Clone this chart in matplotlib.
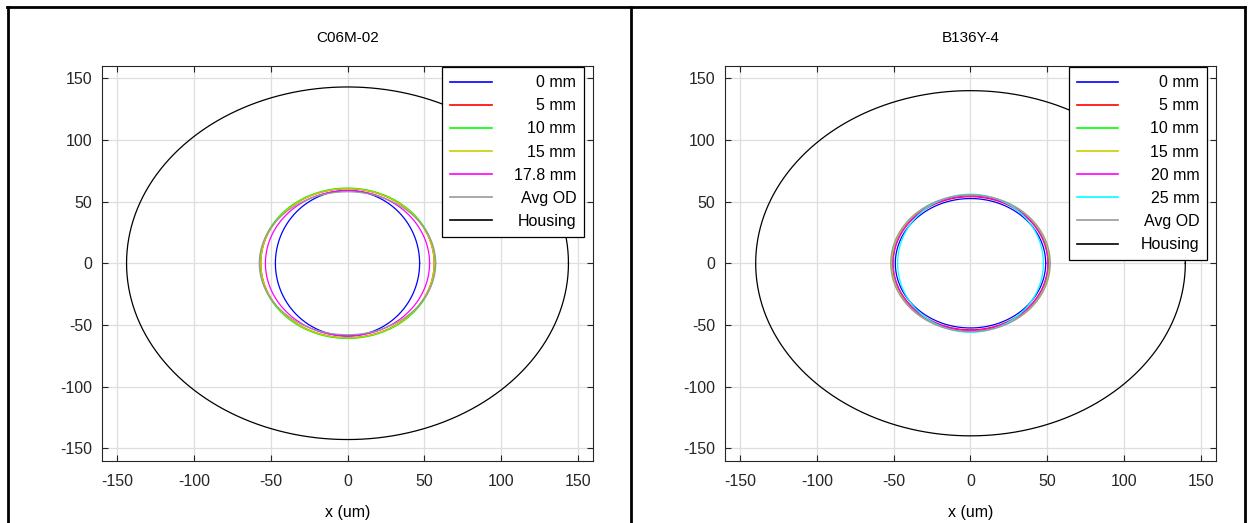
import numpy as np
import matplotlib
matplotlib.use('Agg')
import matplotlib.pyplot as plt
from matplotlib.lines import Line2D

plt.rcParams['font.family'] = ['Liberation Sans', 'DejaVu Sans']
plt.rcParams['axes.unicode_minus'] = False

# ---- data (semi-axes of each measured profile, um) ----
left_title = 'C06M-02'
left_labels = ['0 mm', '5 mm', '10 mm', '15 mm', '17.8 mm', 'Avg OD', 'Housing']
left_rx = [47, 56.5, 57, 56.5, 53.5, 57.5, 144]
left_ry = [59, 60.5, 61, 60.5, 59, 58, 143]

right_title = 'B136Y-4'
right_labels = ['0 mm', '5 mm', '10 mm', '15 mm', '20 mm', '25 mm', 'Avg OD', 'Housing']
right_rx = [49, 50.5, 51, 51.5, 50.5, 47.5, 52, 140]
right_ry = [52.5, 54, 55, 55, 54.5, 56, 55.5, 140]

ticks = [-150, -100, -50, 0, 50, 100, 150]
xlabel = 'x (um)'

left_colors = ['#0000ff', '#ff0000', '#00ff00', '#cccc00', '#ff00ff', '#999999', '#000000']
right_colors = ['#0000ff', '#ff0000', '#00ff00', '#cccc00', '#ff00ff', '#00ffff', '#999999', '#000000']

W, H = 1250, 523
fig = plt.figure(figsize=(W / 100, H / 100), dpi=100)

theta = np.linspace(0, 2 * np.pi, 721)


def panel(rect, title, labels, rx, ry, colors):
    ax = fig.add_axes(rect)
    for lab, a, b, c in zip(labels, rx, ry, colors):
        ax.plot(a * np.cos(theta), b * np.sin(theta), color=c, lw=0.9, label=lab)
    ax.set_xlim(-160, 160)
    ax.set_ylim(-160, 160)
    ax.set_xticks(ticks)
    ax.set_yticks(ticks)
    ax.grid(True, color='#dedede', lw=0.9)
    ax.set_axisbelow(True)
    ax.tick_params(direction='in', top=True, right=True, length=4, width=0.8,
                   labelsize=11.5, colors='#262626')
    ax.tick_params(axis='x', pad=10)
    ax.tick_params(axis='y', pad=7)
    for s in ax.spines.values():
        s.set_color('#262626')
        s.set_linewidth(0.8)
    ax.set_title(title, fontsize=11, pad=17)
    ax.set_xlabel(xlabel, fontsize=11.5, labelpad=11)
    leg = ax.legend(loc='upper right', bbox_to_anchor=(0.982, 0.997), borderaxespad=0,
                    fontsize=11.5, frameon=True, fancybox=False, framealpha=1,
                    edgecolor='black', handlelength=2.6, handletextpad=1.4,
                    labelspacing=0.51, borderpad=0.5)
    leg.get_frame().set_linewidth(0.9)
    for h in leg.get_lines():
        h.set_linewidth(1.2)
    return ax, leg


ax1, leg1 = panel([102 / W, 1 - 460.5 / H, 491 / W, 394.5 / H],
                  left_title, left_labels, left_rx, left_ry, left_colors)
ax2, leg2 = panel([725 / W, 1 - 460.5 / H, 491 / W, 394.5 / H],
                  right_title, right_labels, right_rx, right_ry, right_colors)

# right-align legend labels
fig.canvas.draw()
renderer = fig.canvas.get_renderer()
for leg in (leg1, leg2):
    texts = leg.get_texts()
    widths = [t.get_window_extent(renderer).width for t in texts]
    wmax = max(widths)
    for t, w in zip(texts, widths):
        t.set_position((wmax - w, 0))

# outer frame and separator
lw = 2.0
fig.add_artist(Line2D([7 / W, 1245 / W], [1 - 6.5 / H, 1 - 6.5 / H], transform=fig.transFigure, color='black', lw=lw))
fig.add_artist(Line2D([7.5 / W, 7.5 / W], [0, 1 - 6.5 / H], transform=fig.transFigure, color='black', lw=lw))
fig.add_artist(Line2D([631 / W, 631 / W], [0, 1 - 6.5 / H], transform=fig.transFigure, color='black', lw=lw))
fig.add_artist(Line2D([1245 / W, 1245 / W], [0, 1 - 6.5 / H], transform=fig.transFigure, color='black', lw=lw))

fig.savefig('out.png', dpi=100)
